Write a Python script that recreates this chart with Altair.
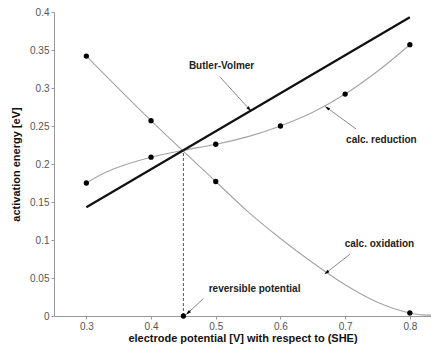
import math
import altair as alt
import pandas as pd

# ---- data ----
pot_pts = [0.3, 0.4, 0.5, 0.6, 0.7, 0.8]
red_pts = [0.175, 0.209, 0.226, 0.250, 0.292, 0.357]
ox_pts_x = [0.3, 0.4, 0.5, 0.8]
ox_pts_y = [0.342, 0.257, 0.177, 0.004]

red_curve_x = [0.3, 0.33, 0.36, 0.4, 0.45, 0.5, 0.55, 0.6, 0.65, 0.7, 0.75, 0.8]
red_curve_y = [0.175, 0.189, 0.199, 0.209, 0.218, 0.226, 0.236, 0.250, 0.268, 0.292, 0.322, 0.357]
ox_curve_x = [0.3, 0.4, 0.5, 0.55, 0.6, 0.65, 0.7, 0.75, 0.8, 0.82, 0.845]
ox_curve_y = [0.342, 0.257, 0.177, 0.137, 0.102, 0.070, 0.041, 0.018, 0.004, 0.0015, 0.001]

bv_x = [0.3, 0.8]
bv_y = [0.143, 0.393]

rev_x = 0.45
rev_y = 0.218

labels = ["Butler-Volmer", "calc. reduction", "calc. oxidation", "reversible potential"]
label_x = [0.509, 0.756, 0.753, 0.560]
label_y = [0.329, 0.232, 0.0946, 0.035]
arrow_x1 = [0.506, 0.717, 0.707, 0.481]
arrow_y1 = [0.315, 0.246, 0.081, 0.023]
arrow_x2 = [0.552, 0.672, 0.671, 0.457]
arrow_y2 = [0.272, 0.274, 0.057, 0.004]

x_ticks = [0.3, 0.4, 0.5, 0.6, 0.7, 0.8]
y_ticks = [0, 0.05, 0.1, 0.15, 0.2, 0.25, 0.3, 0.35, 0.4]

W, H = 377, 304
XDOM = [0.25, 0.8327]
YDOM = [0, 0.4]

FONT = "Liberation Sans"

xs = alt.Scale(domain=XDOM, nice=False, zero=False)
ys = alt.Scale(domain=YDOM, nice=False)

xax = alt.Axis(values=x_ticks, format="~g", title="electrode potential [V] with respect to (SHE)",
               grid=False, titlePadding=1, labelPadding=2, labelOverlap=False, labelFlush=False)
yax = alt.Axis(values=y_ticks, format="~g", title="activation energy [eV]",
               grid=False, titlePadding=8, labelOverlap=False, labelFlush=False)


def X(f):
    return alt.X(f, type="quantitative", scale=xs, axis=xax)


def Y(f):
    return alt.Y(f, type="quantitative", scale=ys, axis=yax)


red_df = pd.DataFrame({"x": red_curve_x, "y": red_curve_y})
ox_df = pd.DataFrame({"x": ox_curve_x, "y": ox_curve_y})
bv_df = pd.DataFrame({"x": bv_x, "y": bv_y})
pts_df = pd.DataFrame({"x": pot_pts + ox_pts_x + [rev_x], "y": red_pts + ox_pts_y + [0]})

px_x = W / (XDOM[1] - XDOM[0])
px_y = H / (YDOM[1] - YDOM[0])
angles = []
for a, b, c, d in zip(arrow_x1, arrow_y1, arrow_x2, arrow_y2):
    ang = math.degrees(math.atan2((c - a) * px_x, (d - b) * px_y)) % 360
    angles.append(ang)

ann_df = pd.DataFrame({"label": labels, "lx": label_x, "ly": label_y,
                       "x1": arrow_x1, "y1": arrow_y1, "x2": arrow_x2, "y2": arrow_y2,
                       "ang": angles})

red_line = alt.Chart(red_df).mark_line(color="#a4a4a4", strokeWidth=1.1, interpolate="monotone").encode(
    x=X("x"), y=Y("y"))
ox_line = alt.Chart(ox_df).mark_line(color="#a4a4a4", strokeWidth=1.1, interpolate="monotone", clip=True).encode(
    x=X("x"), y=Y("y"))
bv_line = alt.Chart(bv_df).mark_line(color="#111111", strokeWidth=2.2).encode(
    x=X("x"), y=Y("y"))

dash = alt.Chart(pd.DataFrame({"x": [rev_x], "y": [0], "y2": [rev_y]})).mark_rule(
    color="#444444", strokeWidth=0.9, strokeDash=[3, 2]).encode(
    x=X("x"), y=Y("y"), y2="y2:Q")

dots = alt.Chart(pts_df).mark_circle(color="#000000", size=28, opacity=1).encode(
    x=X("x"), y=Y("y"))

arrows = alt.Chart(ann_df).mark_rule(color="#888888", strokeWidth=1).encode(
    x=X("x1"), y=Y("y1"), x2="x2:Q", y2="y2:Q")

heads = alt.Chart(ann_df).mark_point(shape="M0,-1L0.55,1L-0.55,1Z", filled=True, color="#000000",
                                     size=30, opacity=1).encode(
    x=X("x2"), y=Y("y2"), angle=alt.Angle("ang:Q", scale=None))

texts = alt.Chart(ann_df).mark_text(font=FONT, fontSize=10, fontWeight="bold", color="#222222",
                                    align="center", baseline="middle").encode(
    x=X("lx"), y=Y("ly"), text="label:N")

chart = alt.layer(red_line, ox_line, bv_line, dash, arrows, heads, dots, texts).properties(
    width=W, height=H,
    autosize=alt.AutoSizeParams(type="none"),
    padding={"left": 46, "top": 4, "right": 0, "bottom": 30},
).configure_view(stroke=None).configure_axis(
    domainColor="#9a9a9a", tickColor="#9a9a9a", tickSize=3,
    labelColor="#555555", labelFont=FONT, labelFontSize=10,
    titleFont=FONT, titleFontSize=11, titleFontWeight="bold", titleColor="#111111",
)

chart.save("out.html", embed_options={"renderer": "svg", "actions": False})
